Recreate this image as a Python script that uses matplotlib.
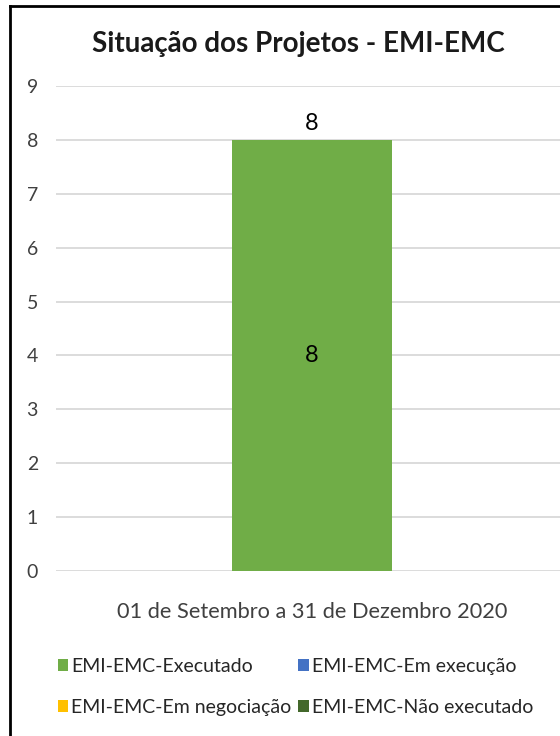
import numpy as np
import matplotlib
matplotlib.use('Agg')
import matplotlib.pyplot as plt
from matplotlib.lines import Line2D

plt.rcParams['font.family'] = ['Lato', 'DejaVu Sans']

# data
category = ['01 de Setembro a 31 de Dezembro 2020']
series_names = ['EMI-EMC-Executado', 'EMI-EMC-Em execução',
                'EMI-EMC-Em negociação', 'EMI-EMC-Não executado']
series_vals = [8, 0, 0, 0]
series_cols = ['#70AD47', '#4472C4', '#FFC000', '#43682B']
yticks = [0, 1, 2, 3, 4, 5, 6, 7, 8, 9]

W, H = 560, 736
fig = plt.figure(figsize=(W/100, H/100), dpi=100)
ax = fig.add_axes([56/W, 1-571/H, 512/W, 485/H])

x = np.arange(len(category))
bottom = np.zeros(len(category))
for name, v, c in zip(series_names, series_vals, series_cols):
    b = ax.bar(x, [v], width=0.313, bottom=bottom, color=c, label=name, zorder=3)
    if v > 0:
        ax.bar_label(b, labels=[str(v)], label_type='center', fontsize=17, color='#000000')
    bottom = bottom + np.array([v])
# total label on top
ax.text(x[0], bottom[0] + 0.1, str(int(bottom[0])), ha='center', va='bottom', fontsize=17, color='#000000')

ax.set_xlim(-0.5, 0.5)
ax.set_ylim(0, 9)
ax.set_yticks(yticks)
ax.yaxis.grid(True, color='#D9D9D9', linewidth=1.3, zorder=0)
ax.set_axisbelow(True)
for s in ax.spines.values():
    s.set_visible(False)
ax.tick_params(axis='y', length=0, pad=13, labelsize=14, labelcolor='#404040')
ax.set_xticks(x)
ax.set_xticklabels(category)
ax.tick_params(axis='x', length=0, pad=22, labelsize=15.7, labelcolor='#404040')

fig.text(298/W, 1-44/H, 'Situação dos Projetos - EMI-EMC', ha='center', va='center',
         fontsize=20, fontweight='bold', color='#1a1a1a')

handles, labels = ax.get_legend_handles_labels()
order = [0, 2, 1, 3]
fig.legend([handles[i] for i in order], [labels[i] for i in order], ncol=2,
           loc='center left', bbox_to_anchor=(40/W, 1-687/H), frameon=False,
           fontsize=14, handlelength=0.55, handleheight=0.6, handletextpad=0.15,
           columnspacing=0.35, labelspacing=1.25, labelcolor='#262626')

# chart border (cut off on right and bottom)
fig.add_artist(Line2D([10/W, 10/W], [0, 1-6/H], color='black', linewidth=2))
fig.add_artist(Line2D([10/W, 1], [1-6/H, 1-6/H], color='black', linewidth=2))

fig.savefig('out.png', dpi=100)
